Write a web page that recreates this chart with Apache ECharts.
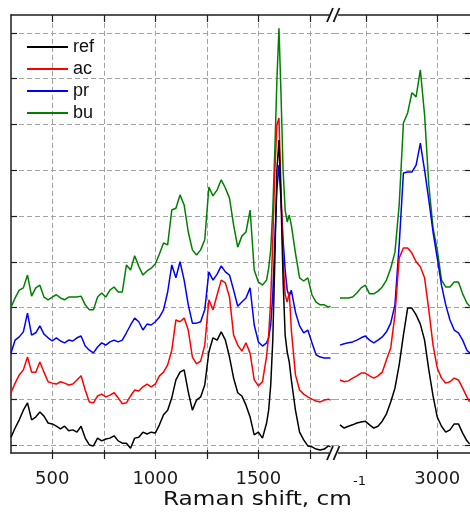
<!DOCTYPE html>
<html>
<head>
<meta charset="utf-8">
<script src="https://cdn.jsdelivr.net/npm/echarts@6/dist/echarts.min.js"></script>
<style>
html,body{margin:0;padding:0;background:#fff;}
#chart{width:470px;height:522px;}
</style>
</head>
<body>
<div id="chart"></div>
<script>
// Raman shift sampling (cm-1): fingerprint region and C-H stretching region
const shiftLow = [300,320,340,360,380,400,420,440,460,480,500,520,540,560,580,600,620,640,660,680,700,720,740,760,780,800,820,840,860,880,900,920,940,960,980,1000,1020,1040,1060,1080,1100,1120,1140,1160,1180,1200,1220,1240,1260,1280,1300,1320,1340,1360,1380,1400,1420,1440,1460,1480,1500,1520,1540,1550,1560,1570,1580,1590,1600,1610,1620,1630,1640,1650,1660,1680,1700,1720,1740,1760,1780,1800,1820,1840,1850];
const shiftHigh = [2655,2670,2685,2700,2715,2730,2745,2760,2775,2790,2805,2820,2835,2850,2865,2880,2895,2910,2925,2940,2955,2970,2985,3000,3015,3030,3045,3060,3075,3090,3105,3115];

// Stacked intensities (a.u., one grid step per unit of offset)
const refLow = [0.17,0.37,0.55,0.76,0.92,0.55,0.61,0.72,0.63,0.48,0.46,0.41,0.35,0.41,0.31,0.33,0.28,0.41,0.15,0.0,-0.02,0.15,0.09,0.13,0.15,0.2,0.09,0.04,0.04,-0.07,0.15,0.17,0.28,0.24,0.28,0.26,0.44,0.66,0.76,1.03,1.42,1.59,1.64,1.16,0.76,0.98,1.05,1.31,2.03,2.34,2.29,2.47,2.29,1.92,1.46,1.14,1.07,0.87,0.61,0.22,0.28,0.15,0.48,0.76,1.31,2.29,4.04,6.0,6.66,5.35,3.6,2.4,2.03,1.81,1.42,0.76,0.28,0.11,-0.02,-0.04,-0.09,-0.11,-0.09,-0.02,-0.04];
const acLow = [1.14,1.35,1.53,1.64,1.92,1.59,1.59,1.81,1.59,1.38,1.35,1.33,1.38,1.35,1.31,1.33,1.42,1.51,1.2,0.94,0.92,1.07,1.11,1.05,1.09,1.14,1.03,0.9,0.92,1.07,1.2,1.18,1.27,1.33,1.27,1.33,1.51,1.59,1.75,2.07,2.73,2.69,2.77,2.51,1.92,1.77,1.83,2.18,3.17,2.95,3.28,3.6,3.54,3.23,2.4,2.18,2.05,2.23,2.0,1.42,1.29,1.38,1.94,2.4,3.17,4.48,6.0,6.99,7.14,5.57,4.04,3.28,3.12,3.34,2.51,1.53,1.2,1.11,1.05,1.0,0.96,0.94,0.98,1.0,0.98];
const prLow = [2.01,2.29,2.36,2.47,2.88,2.4,2.45,2.6,2.42,2.34,2.27,2.34,2.27,2.23,2.29,2.27,2.34,2.38,2.16,2.07,2.01,2.14,2.23,2.18,2.25,2.29,2.25,2.29,2.45,2.62,2.77,2.69,2.51,2.64,2.62,2.69,2.79,2.95,3.34,3.93,3.65,4.0,3.6,3.06,2.66,2.66,2.69,2.95,3.78,3.6,3.73,3.91,3.78,3.71,3.38,3.03,3.12,3.21,3.43,2.62,2.25,2.16,2.23,2.34,2.62,3.28,4.48,5.57,6.11,5.35,4.48,3.82,3.38,3.25,3.38,2.9,2.6,2.45,2.51,2.23,1.97,1.92,1.9,1.9,1.9];
const buLow = [3.01,3.21,3.38,3.43,3.71,3.25,3.43,3.49,3.23,3.17,3.23,3.28,3.21,3.17,3.23,3.23,3.23,3.25,3.06,2.95,2.95,3.23,3.32,3.23,3.38,3.45,3.34,3.34,3.93,3.82,4.13,3.9,3.71,3.8,3.86,3.95,4.17,4.41,4.37,5.13,5.17,5.46,5.24,4.65,4.26,4.15,4.26,4.48,5.63,5.44,5.57,5.79,5.61,5.39,4.8,4.32,4.56,4.65,5.13,3.82,3.56,3.49,3.6,3.86,4.26,5.13,6.44,7.97,9.1,7.64,6.0,5.13,4.87,5.02,4.8,4.19,3.65,3.58,3.65,3.28,3.12,3.06,3.06,3.01,3.03];

const refHigh = [0.44,0.37,0.41,0.44,0.48,0.5,0.52,0.44,0.37,0.41,0.52,0.68,0.94,1.24,1.75,2.4,2.99,2.99,2.84,2.64,2.29,1.64,1.07,0.61,0.41,0.28,0.33,0.46,0.46,0.26,0.09,0.02];
const acHigh = [1.42,1.38,1.4,1.46,1.51,1.57,1.57,1.51,1.46,1.51,1.59,1.86,2.12,2.84,4.08,4.3,4.3,4.19,4.0,3.89,3.65,2.95,2.18,1.68,1.46,1.35,1.38,1.46,1.42,1.24,1.05,0.94];
const prHigh = [2.18,2.21,2.23,2.25,2.29,2.34,2.38,2.29,2.23,2.29,2.36,2.47,2.66,3.06,4.37,5.94,5.96,5.96,6.11,6.59,6.0,5.35,4.65,4.08,3.49,3.06,2.73,2.51,2.45,2.29,2.07,2.01];
const buHigh = [3.21,3.21,3.21,3.23,3.32,3.43,3.49,3.3,3.3,3.36,3.45,3.6,3.86,4.21,5.24,7.03,7.25,7.69,7.6,8.19,7.21,5.68,4.74,4.26,3.6,3.45,3.45,3.56,3.56,3.3,3.1,3.03];

const sampleNames = ['ref', 'ac', 'pr', 'bu'];
const sampleColors = ['#000000', '#ff0000', '#0000ff', '#008000'];
const lowSpectra = [refLow, acLow, prLow, buLow];
const highSpectra = [refHigh, acHigh, prHigh, buHigh];

// Axis ticks and labels
const lowTicks = [500, 750, 1000, 1250, 1500, 1750];
const lowLabels = [500, 1000, 1500];
const highTicks = [2750, 3000];
const highLabels = [3000];
const levelTicks = [0, 1, 2, 3, 4, 5, 6, 7, 8, 9];

const chart = echarts.init(document.getElementById('chart'), null, { renderer: 'canvas' });

const frameColor = '#1e1e1e';
const gridDash = { color: '#a2a2a2', width: 1, type: [5, 3] };
const tickFont = { fontFamily: 'DejaVu Sans', fontSize: 18, color: '#1a1a1a' };

function bottomAxis(gridIndex, min, max, ticks, labels, main) {
  return {
    type: 'value', gridIndex, position: 'bottom', min, max,
    axisLine: { show: main, onZero: false, lineStyle: { color: frameColor, width: 1.5 } },
    axisTick: main
      ? { show: true, inside: false, length: 6, customValues: ticks, lineStyle: { color: frameColor, width: 1.2 } }
      : { show: true, inside: true, length: 3, customValues: ticks, lineStyle: { color: frameColor, width: 1.2 } },
    axisLabel: main
      ? Object.assign({ show: true, margin: 17, customValues: labels, formatter: v => String(v) }, tickFont)
      : { show: false },
    splitLine: main ? { show: true, lineStyle: gridDash } : { show: false }
  };
}
function topAxis(gridIndex, min, max, ticks) {
  return {
    type: 'value', gridIndex, position: 'top', min, max,
    axisLine: { show: true, onZero: false, lineStyle: { color: frameColor, width: 1.5 } },
    axisTick: { show: true, inside: true, length: 7, customValues: ticks, lineStyle: { color: frameColor, width: 1.2 } },
    axisLabel: { show: false },
    splitLine: { show: false }
  };
}
function levelAxis(gridIndex, position, showLine, len) {
  return {
    type: 'value', gridIndex, position, min: -0.175, max: 9.388,
    axisLine: { show: showLine, onZero: false, lineStyle: { color: frameColor, width: 1.5 } },
    axisTick: { show: true, inside: true, length: len, customValues: levelTicks, lineStyle: { color: frameColor, width: 1.2 } },
    axisLabel: { show: false },
    splitLine: { show: true, lineStyle: gridDash }
  };
}

const series = [];
sampleNames.forEach((name, k) => {
  const common = {
    name, type: 'line', showSymbol: false, symbol: 'none',
    lineStyle: { color: sampleColors[k], width: 1.5 },
    itemStyle: { color: sampleColors[k] },
    z: 10 - k, animation: false
  };
  series.push(Object.assign({}, common, {
    xAxisIndex: 0, yAxisIndex: 0,
    data: shiftLow.map((x, i) => [x, lowSpectra[k][i]])
  }));
  series.push(Object.assign({}, common, {
    xAxisIndex: 3, yAxisIndex: 1,
    data: shiftHigh.map((x, i) => [x, highSpectra[k][i]])
  }));
});

// axis-break marks on the top and bottom frame lines
function breakMarks(yc) {
  return [
    { type: 'rect', z: 100, shape: { x: 329, y: yc - 3, width: 9, height: 6 }, style: { fill: '#ffffff' } },
    { type: 'line', z: 101, shape: { x1: 327, y1: yc + 7, x2: 333, y2: yc - 7 }, style: { stroke: '#111', lineWidth: 1.8 } },
    { type: 'line', z: 101, shape: { x1: 333.5, y1: yc + 7, x2: 339.5, y2: yc - 7 }, style: { stroke: '#111', lineWidth: 1.8 } }
  ];
}

const option = {
  animation: false,
  backgroundColor: '#ffffff',
  grid: [
    { left: 11, top: 15, width: 323, height: 438, containLabel: false },
    { left: 334, top: 15, width: 137, height: 438, containLabel: false }
  ],
  xAxis: [
    bottomAxis(0, 300, 1867, lowTicks, lowLabels, true),
    bottomAxis(0, 300, 1867, lowTicks, lowLabels, false),
    topAxis(0, 300, 1867, lowTicks),
    bottomAxis(1, 2634, 3116, highTicks, highLabels, true),
    bottomAxis(1, 2634, 3116, highTicks, highLabels, false),
    topAxis(1, 2634, 3116, highTicks)
  ],
  yAxis: [
    levelAxis(0, 'left', true, 6),
    levelAxis(1, 'right', false, 5)
  ],
  legend: {
    data: sampleNames,
    orient: 'vertical',
    left: 27, top: 38, padding: 0,
    icon: 'rect',
    itemWidth: 41, itemHeight: 2, itemGap: 4,
    textStyle: { fontFamily: 'Liberation Sans', fontSize: 18, color: '#111' },
    backgroundColor: 'transparent'
  },
  series,
  graphic: [
    ...breakMarks(15),
    ...breakMarks(453),
    {
      type: 'text', z: 100, x: 163, y: 500, scaleX: 1.16,
      style: { text: 'Raman shift, cm', fontFamily: 'DejaVu Sans', fontSize: 20, fill: '#111', align: 'left', verticalAlign: 'middle' }
    },
    {
      type: 'text', z: 100, x: 353, y: 482,
      style: { text: '-1', fontFamily: 'DejaVu Sans', fontSize: 13, fill: '#111', align: 'left', verticalAlign: 'middle' }
    }
  ]
};

chart.setOption(option);
</script>
</body>
</html>
